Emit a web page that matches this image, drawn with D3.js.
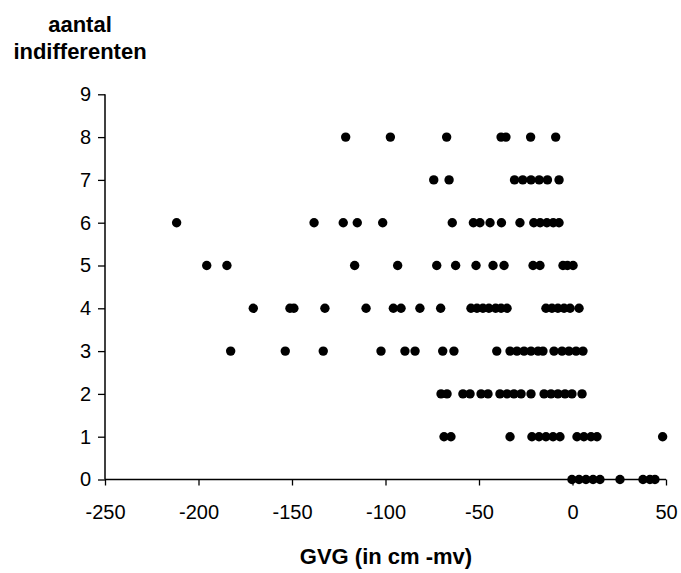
<!DOCTYPE html>
<html><head><meta charset="utf-8">
<script src="https://cdn.jsdelivr.net/npm/d3@7"></script>
<style>body{margin:0;background:#fff}svg{display:block}text{font-family:"Liberation Sans",Arial,sans-serif;fill:#000}</style>
</head><body>
<svg id="c" width="681" height="573"></svg>
<script>
const xTicks = [-250,-200,-150,-100,-50,0,50];
const yTicks = [0,1,2,3,4,5,6,7,8,9];
const xTitle = "GVG (in cm -mv)";
const yTitle = ["aantal","indifferenten"];
// GVG values per count (aantal indifferenten)
const gvg0 = [-0.3,3.5,7.2,11.0,14.7,25.4,37.7,41.4,44.1];
const gvg1 = [-68.7,-65.0,-33.4,-21.7,-17.9,-14.2,-10.4,-6.7,2.4,6.1,9.9,13.1,48.2];
const gvg2 = [-70.3,-67.1,-58.6,-54.8,-48.9,-45.2,-38.8,-35.0,-31.3,-27.5,-22.2,-15.2,-11.5,-7.8,-4.0,-0.3,5.1];
const gvg3 = [-182.8,-153.6,-133.3,-102.4,-89.6,-84.2,-69.4,-63.4,-40.5,-33.4,-29.7,-25.9,-22.2,-18.4,-15.8,-9.9,-5.6,-1.9,1.9,5.6];
const gvg4 = [-170.7,-151.1,-149.0,-132.4,-110.4,-95.8,-91.7,-81.6,-70.5,-54.3,-51.1,-47.9,-44.7,-41.1,-38.2,-35.0,-14.2,-11.0,-7.8,-4.5,-1.3,3.5];
const gvg5 = [-195.6,-184.8,-116.5,-93.5,-72.6,-62.5,-51.6,-42.5,-36.6,-21.1,-17.4,-5.1,-2.7,0.3];
const gvg6 = [-211.7,-138.2,-122.6,-115.1,-101.5,-64.3,-53.0,-49.5,-44.1,-38.0,-28.1,-20.7,-17.3,-13.7,-10.3,-7.2];
const gvg7 = [-74.2,-66.0,-31.0,-26.6,-22.2,-17.8,-13.4,-7.2];
const gvg8 = [-121.3,-97.4,-67.3,-38.2,-35.6,-22.4,-9.0];

const rows = [gvg0,gvg1,gvg2,gvg3,gvg4,gvg5,gvg6,gvg7,gvg8];
const points = [];
rows.forEach((r,i)=>r.forEach(v=>points.push({x:v,y:i})));

const svg = d3.select("#c");
const x = d3.scaleLinear().domain([-250,50]).range([105,666]);
const y = d3.scaleLinear().domain([0,9]).range([479.5,94.3]);
const fmt = d => String(d);

const gx = svg.append("g").attr("transform",`translate(0,${y(0)})`)
  .call(d3.axisBottom(x).tickValues(xTicks).tickSize(6).tickPadding(19).tickFormat(fmt));
const gy = svg.append("g").attr("transform",`translate(${x(-250)},0)`)
  .call(d3.axisLeft(y).tickValues(yTicks).tickSize(7).tickPadding(7).tickFormat(fmt));
[gx,gy].forEach(g=>{
  g.select(".domain").attr("stroke","#000").attr("stroke-width",1.5);
  g.selectAll(".tick line").attr("stroke","#000").attr("stroke-width",1.3);
  g.selectAll(".tick text").attr("font-size",20).attr("font-family","Liberation Sans, Arial, sans-serif").attr("fill","#000");
});
gx.select(".domain").attr("d",`M${x(-250)},0H${x(50)}`);
gy.select(".domain").attr("d",`M0,${y(0)}V${y(9)}`);

svg.append("g").selectAll("circle").data(points).join("circle")
  .attr("cx",d=>x(d.x)).attr("cy",d=>y(d.y)).attr("r",4.7).attr("fill","#000");

svg.append("text").attr("x",386).attr("y",564).attr("text-anchor","middle")
  .attr("font-size",22).attr("font-weight","bold").text(xTitle);
svg.append("text").attr("x",80).attr("y",32).attr("text-anchor","middle")
  .attr("font-size",22).attr("font-weight","bold").text(yTitle[0]);
svg.append("text").attr("x",80).attr("y",59).attr("text-anchor","middle")
  .attr("font-size",22).attr("font-weight","bold").text(yTitle[1]);
</script>
</body></html>
